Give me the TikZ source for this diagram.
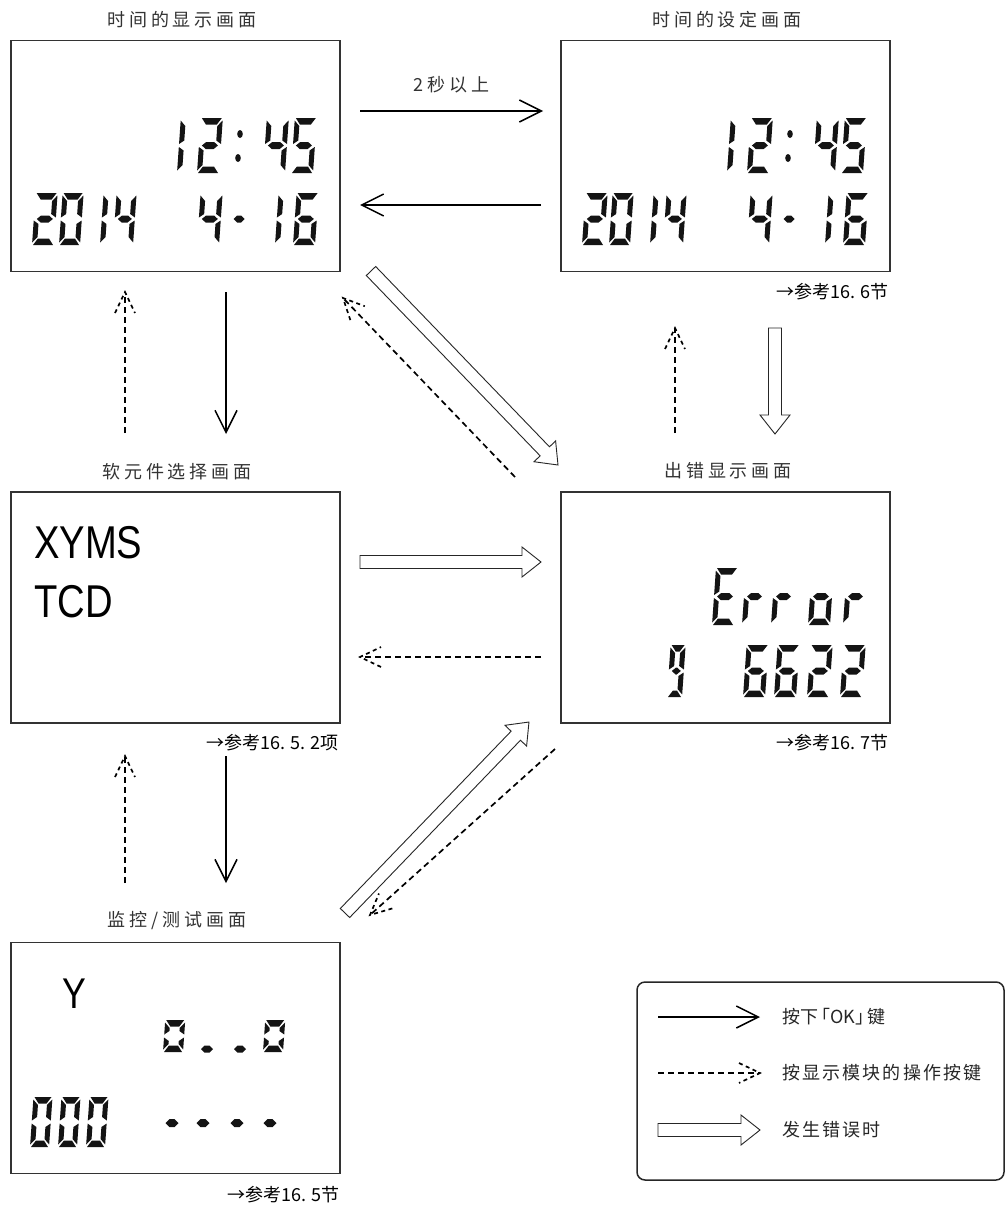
\documentclass[tikz,border=0pt]{standalone}
\usepackage{fontspec}
\usepackage{graphicx}
\setmainfont{Liberation Sans}
\newfontfamily\cjk{Noto Sans CJK SC}
\newfontfamily\cjkt{Noto Sans CJK SC}[LetterSpace=22]
\newfontfamily\cjkl{Noto Sans CJK SC}[LetterSpace=12]
\usetikzlibrary{arrows.meta,decorations.markings,calc}

% seven-segment pieces (local coords: u right, v up, in pt)
\def\lcdsega{\fill (1,\segH) -- ({\segW-1},\segH) -- ({\segW-\segT-0.5},{\segH-\segT-1.5}) -- ({\segT+0.5},{\segH-\segT-1.5}) -- cycle;}
\def\lcdsegd{\fill (1,0) -- ({\segW-1},0) -- ({\segW-\segT-0.5},{\segT+1.5}) -- ({\segT+0.5},{\segT+1.5}) -- cycle;}
\def\lcdsegg{\fill ({\segT*0.6},\segh) -- ({\segT+2},{\segh+\segT/2+1}) -- ({\segW-\segT-2},{\segh+\segT/2+1}) -- ({\segW-\segT*0.6},\segh) -- ({\segW-\segT-2},{\segh-\segT/2-1}) -- ({\segT+2},{\segh-\segT/2-1}) -- cycle;}
\def\lcdsegf{\fill (0,{\segh+1.5}) -- (\segT,{\segh+\segT/2+2.5}) -- (\segT,{\segH-\segT-3}) -- (0,{\segH-2.5}) -- cycle;}
\def\lcdsege{\fill (0,2.5) -- (\segT,{\segT+3}) -- (\segT,{\segh-\segT/2-2.5}) -- (0,{\segh-1.5}) -- cycle;}
\def\lcdsegb{\fill (\segW,{\segh+1.5}) -- ({\segW-\segT},{\segh+\segT/2+2.5}) -- ({\segW-\segT},{\segH-\segT-3}) -- (\segW,{\segH-2.5}) -- cycle;}
\def\lcdsegc{\fill (\segW,2.5) -- ({\segW-\segT},{\segT+3}) -- ({\segW-\segT},{\segh-\segT/2-2.5}) -- (\segW,{\segh-1.5}) -- cycle;}

% \lcd{x}{baseline y}{height}{width}{segments}
\newcommand\lcd[5]{%
  \begin{scope}[shift={(#1,#2)}, x=1pt, y=1pt, xslant=0.07, fill=black!92]
    \def\segH{#3}\def\segW{#4}\def\segT{5}\pgfmathsetmacro\segh{#3/2}
    \foreach \s in {#5}{\csname lcdseg\s\endcsname}
  \end{scope}}
% hexagonal dot {x}{y}{w}{h}
\newcommand\lcdhex[4]{%
  \fill[black!92] ({#1-#3/2},#2) -- ({#1-#3/2+#4/2},{#2-#4/2}) -- ({#1+#3/2-#4/2},{#2-#4/2}) -- ({#1+#3/2},#2) -- ({#1+#3/2-#4/2},{#2+#4/2}) -- ({#1-#3/2+#4/2},{#2+#4/2}) -- cycle;}
\newcommand\lcdcolon[2]{%
  \fill[black!92] (#1,#2) ellipse [x radius=2.8pt, y radius=4pt];}

\newcommand\timedigits[1]{%
  \lcd{177+#1}{173}{55}{22}{e,f}
  \lcd{197+#1}{173}{55}{22}{a,b,g,e,d}
  \lcdcolon{240+#1}{134}
  \lcdcolon{238+#1}{158}
  \lcd{263+#1}{173}{55}{22}{f,g,b,c}
  \lcd{291+#1}{173}{55}{22}{a,f,g,c,d}
  \lcd{32+#1}{245}{52}{22}{a,b,g,e,d}
  \lcd{59+#1}{245}{52}{21}{a,b,c,d,e,f}
  \lcd{100+#1}{245}{52}{22}{e,f}
  \lcd{113+#1}{245}{52}{20}{f,g,b,c}
  \lcd{197+#1}{245}{52}{22}{f,g,b,c}
  \lcdhex{239+#1}{219}{11}{7}
  \lcd{275+#1}{245}{52}{22}{e,f}
  \lcd{293+#1}{245}{52}{22}{a,f,g,e,d,c}}

% hollow (fat) arrow between two named coordinates
\newcommand\fatarrow[2]{%
  \draw[hollow] let \p1=(#1), \p2=(#2), \n1={atan2(\y2-\y1,\x2-\x1)}, \n2={veclen(\x2-\x1,\y2-\y1)} in
    [shift={(\p1)}, rotate=\n1]
    (0pt,6.5pt) -- ({\n2-19pt},6.5pt) -- ({\n2-19pt},15pt) -- ({\n2+0pt},0pt)
    -- ({\n2-19pt},-15pt) -- ({\n2-19pt},-6.5pt) -- (0pt,-6.5pt) -- cycle;}

\tikzset{
  screen/.style={draw=black!80, line width=1.3pt, minimum width=329pt, minimum height=231pt, inner sep=0pt},
  title/.style={font=\cjkt\fontsize{18}{18}\selectfont, text=black!80, inner sep=0pt},
  refnote/.style={font=\cjk\fontsize{18}{18}\selectfont, inner sep=0pt, anchor=east},
  legtext/.style={font=\cjkl\fontsize{18}{18}\selectfont, text=black!85, inner sep=0pt, anchor=west},
  hollow/.style={draw=black!85, line width=0.9pt, fill=white},
  okarrow/.style={line width=1.5pt, -{Straight Barb[length=22pt,width=22pt]}},
  keyarrow/.style={line width=1.7pt, dash pattern=on 6pt off 4pt,
    postaction={decorate},
    decoration={markings, mark=at position 1 with {\draw[line width=1.7pt, dash pattern=on 4pt off 3.5pt] (-21pt,10pt) -- (0pt,0pt) -- (-21pt,-10pt);}}}
}

\begin{document}
\begin{tikzpicture}[x=1pt, y=-1pt]
\fill[white] (0,0) rectangle (1007,1207);
\useasboundingbox (0,0) rectangle (1007,1207);

% screens
\node[screen] (s1) at (175.5,156) {};
\node[screen] (s2) at (725.5,156) {};
\node[screen] (s3) at (175.5,607.5) {};
\node[screen] (s4) at (725.5,607.5) {};
\node[screen] (s5) at (175.5,1058) {};

% titles
\node[title] (t1) at (182,20) {时间的显示画面};
\node[title] (t2) at (727,20) {时间的设定画面};
\node[title] (t3) at (177,472) {软元件选择画面};
\node[title] (t4) at (728,471) {出错显示画面};
\node[title] (t5) at (177,921) {监控/测试画面};

% references
\node[refnote] (r2) at (889,292) {→参考16. 6节};
\node[refnote] (r3) at (339,743) {→参考16. 5. 2项};
\node[refnote] (r4) at (889,743) {→参考16. 7节};
\node[refnote] (r5) at (340,1195) {→参考16. 5节};

% screen contents
\timedigits{0}
\timedigits{550}

\node[anchor=base west, inner sep=0pt] (xyms) at (34,558) {\fontsize{46}{46}\selectfont\scalebox{0.83}[1]{XYMS}};
\node[anchor=base west, inner sep=0pt] (tcd) at (34,617) {\fontsize{46}{46}\selectfont\scalebox{0.83}[1]{TCD}};

% Error 9 6622
\lcd{712}{625}{57}{22}{a,d,e,f,g}
\lcd{742}{625}{57}{21}{e,g}
\lcd{771}{625}{57}{21}{e,g}
\lcd{808}{625}{57}{22}{c,d,e,g}
\lcd{843}{625}{57}{21}{e,g}
\lcd{667}{697}{52}{15}{a,b,c,d,f,g}
\lcd{743}{697}{52}{22}{a,f,g,e,d,c}
\lcd{774}{697}{52}{22}{a,f,g,e,d,c}
\lcd{807}{697}{52}{22}{a,b,g,e,d}
\lcd{840}{697}{52}{22}{a,b,g,e,d}

% monitor
\node[anchor=base west, inner sep=0pt] (ylab) at (62,1008) {\fontsize{43}{43}\selectfont\scalebox{0.83}[1]{Y}};
\lcd{163}{1052}{32}{20}{a,b,c,d,e,f}
\lcdhex{207}{1049}{12}{7}
\lcdhex{240}{1049}{12}{7}
\lcd{263}{1052}{32}{20}{a,b,c,d,e,f}
\lcd{30}{1147}{50}{19}{a,b,c,d,e,f}
\lcd{58}{1147}{50}{19}{a,b,c,d,e,f}
\lcd{86}{1147}{50}{19}{a,b,c,d,e,f}
\lcdhex{172}{1123}{13}{8}
\lcdhex{203}{1123}{13}{8}
\lcdhex{237}{1123}{13}{8}
\lcdhex{270}{1123}{13}{8}

% connector end points
\coordinate (p12a) at (360,111); \coordinate (p12b) at (543,111);
\coordinate (p21a) at (541,205); \coordinate (p21b) at (360,205);
\coordinate (p13a) at (226,292); \coordinate (p13b) at (226,434);
\coordinate (p31a) at (125,433); \coordinate (p31b) at (125,292);
\coordinate (p24a) at (775,328); \coordinate (p24b) at (775,434);
\coordinate (p42a) at (675,433); \coordinate (p42b) at (675,328);
\coordinate (p14a) at (371,271); \coordinate (p14b) at (558,465);
\coordinate (p41a) at (515,477); \coordinate (p41b) at (343,298);
\coordinate (p34a) at (360,562); \coordinate (p34b) at (541,562);
\coordinate (p43a) at (541,657); \coordinate (p43b) at (360,657);
\coordinate (p35a) at (226,756); \coordinate (p35b) at (226,883);
\coordinate (p53a) at (125,883); \coordinate (p53b) at (125,756);
\coordinate (p54a) at (345,913); \coordinate (p54b) at (529,722);
\coordinate (p45a) at (555,749); \coordinate (p45b) at (370,915);

% connectors
\draw[okarrow] (p12a) -- node[title, above=17pt] (lab2s) {2秒以上} (p12b);
\draw[okarrow] (p21a) -- (p21b);
\draw[okarrow] (p13a) -- (p13b);
\draw[keyarrow] (p31a) -- (p31b);
\fatarrow{p24a}{p24b}
\draw[keyarrow] (p42a) -- (p42b);
\fatarrow{p14a}{p14b}
\draw[keyarrow] (p41a) -- (p41b);
\fatarrow{p34a}{p34b}
\draw[keyarrow] (p43a) -- (p43b);
\draw[okarrow] (p35a) -- (p35b);
\draw[keyarrow] (p53a) -- (p53b);
\fatarrow{p54a}{p54b}
\draw[keyarrow] (p45a) -- (p45b);

% legend
\node[draw=black!85, line width=1.5pt, rounded corners=8pt, minimum width=367pt, minimum height=198pt, inner sep=0pt] (legend) at (820.5,1081) {};
\coordinate (l1a) at (658,1017); \coordinate (l1b) at (760,1017);
\coordinate (l2a) at (658,1073); \coordinate (l2b) at (760,1073);
\coordinate (l3a) at (658,1130); \coordinate (l3b) at (760,1130);
\draw[okarrow] (l1a) -- (l1b);
\draw[keyarrow] (l2a) -- (l2b);
\fatarrow{l3a}{l3b}
\node[legtext, font=\cjk\fontsize{18}{18}\selectfont] (lt1) at (782,1017) {按下\kern-6pt「OK」\kern-6pt键};
\node[legtext] (lt2) at (782,1073) {按显示模块的操作按键};
\node[legtext] (lt3) at (782,1130) {发生错误时};
\end{tikzpicture}
\end{document}
